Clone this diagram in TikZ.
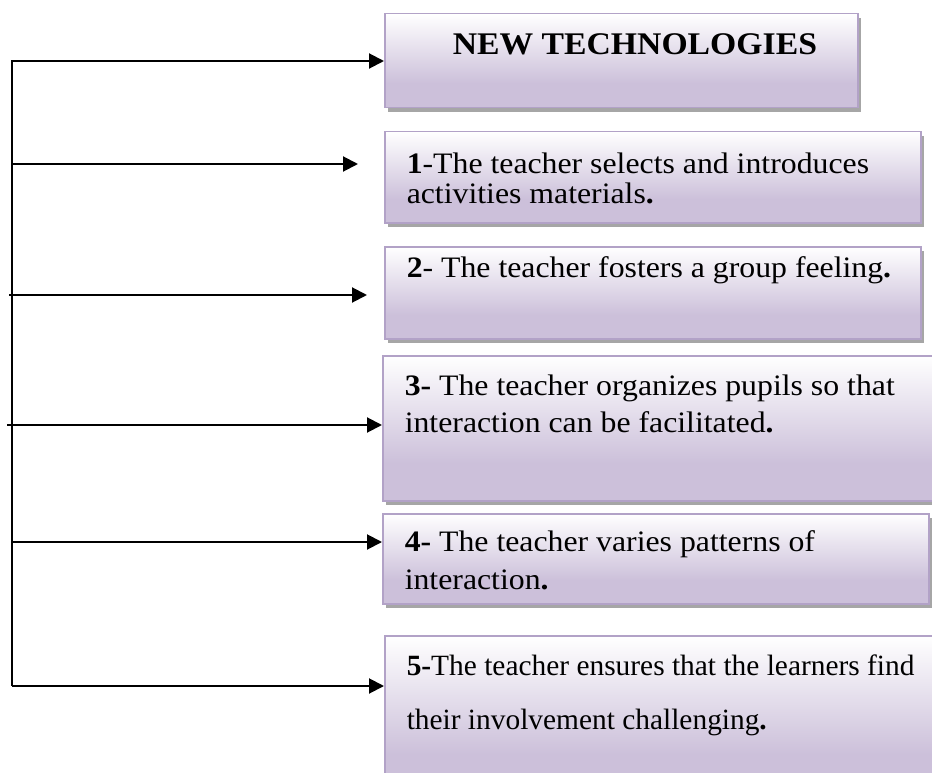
\documentclass[tikz,border=0pt]{standalone}
\usepackage{fontspec}
\setmainfont{Liberation Serif}[FakeStretch=1.07]
\newfontfamily\plainserif{Liberation Serif}
\usetikzlibrary{arrows.meta,shadows}

\definecolor{lavfill}{RGB}{204,192,218}
\definecolor{lavline}{RGB}{178,162,199}
\pgfdeclareverticalshading{lavfade}{100bp}{color(0bp)=(lavfill); color(25bp)=(lavfill); color(38bp)=(lavfill); color(75bp)=(white); color(100bp)=(white)}

\tikzstyle{process} = [rectangle, anchor=north west, inner xsep=22pt, inner ysep=0pt, align=flush left, draw=lavline, line width=1.5pt, shading=lavfade, drop shadow={shadow xshift=3pt, shadow yshift=-4pt, fill=gray!70, opacity=1}, font=\fontsize{29.7}{30}\selectfont]
\tikzstyle{arrow} = [line width=2pt,-{Triangle[length=15pt,width=15pt]}]

\begin{document}
\lineskiplimit=-30pt
\begin{tikzpicture}[x=1pt, y=-1pt]

  \useasboundingbox (0,0) rectangle (932,773);

  \node (b0) [process, text width=429pt, text height=41pt, text depth=53pt, font=\fontsize{31.5}{32}\selectfont\bfseries] at (384,13) {\hspace*{46pt}NEW TECHNOLOGIES};
  \node (b1) [process, text width=492pt, text height=42pt, text depth=49pt] at (384,131) {\textbf{1}-The teacher selects and introduces\\activities materials\textbf{.}};
  \node (b2) [process, text width=492pt, text height=31pt, text depth=61pt] at (384,246) {\textbf{2}- The teacher fosters a group feeling\textbf{.}};
  \node (b3) [process, text width=516pt, text height=40pt, text depth=105pt, font=\fontsize{29.7}{37}\selectfont] at (382,355) {\textbf{3-} The teacher organizes pupils so that\\interaction can be facilitated\textbf{.}};
  \node (b4) [process, text width=502pt, text height=38pt, text depth=52pt, font=\fontsize{29.7}{38}\selectfont] at (382,513) {\textbf{4-} The teacher varies patterns of\\interaction\textbf{.}};
  \node (b5) [process, text width=560pt, text height=40pt, text depth=120pt, font=\plainserif\fontsize{29.4}{54}\selectfont] at (384,635) {\textbf{5-}The teacher ensures that the learners find\\their involvement challenging\textbf{.}};

  % --- %

  \coordinate (s0) at (12,61);
  \coordinate (s1) at (12,164);
  \coordinate (s2) at (9,295);
  \coordinate (s3) at (7,425);
  \coordinate (s4) at (12,542);
  \coordinate (s5) at (12,686);

  \draw [arrow] (s5) -- (s0) -- (s0 -| b0.west);
  \draw [arrow] (s1) -- ([xshift=-26pt]s1 -| b1.west);
  \draw [arrow] (s2) -- ([xshift=-17pt]s2 -| b2.west);
  \draw [arrow] (s3) -- (s3 -| b3.west);
  \draw [arrow] (s4) -- (s4 -| b4.west);
  \draw [arrow] (s5) -- (s5 -| b5.west);

\end{tikzpicture}
\end{document}
